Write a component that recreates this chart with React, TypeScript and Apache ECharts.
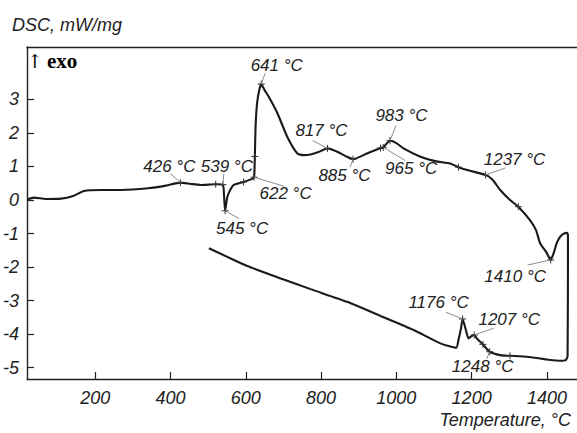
import React, { useEffect, useRef } from "react";
import * as echarts from "echarts";

// Heating run (temperature °C, DSC mW/mg)
const heatT = [20, 37, 69, 109, 141, 170, 215, 268, 340, 388, 426, 454, 480, 520, 539, 542, 545, 551, 560, 568, 594, 617, 622, 624, 626, 630, 636, 641, 650, 661, 684, 710, 737, 753, 772, 793, 817, 843, 865, 885, 922, 958, 965, 983, 1000, 1019, 1064, 1103, 1143, 1165, 1196, 1237, 1255, 1276, 1302, 1324, 1355, 1371, 1382, 1398, 1410, 1419, 1426, 1435, 1444, 1453, 1456];
const heatV = [0.02, 0.07, 0.03, 0.04, 0.12, 0.27, 0.30, 0.30, 0.35, 0.43, 0.52, 0.48, 0.45, 0.47, 0.46, 0.15, -0.32, 0.10, 0.33, 0.45, 0.54, 0.63, 0.68, 1.3, 2.2, 2.9, 3.3, 3.46, 3.28, 3.08, 2.59, 1.89, 1.39, 1.34, 1.36, 1.43, 1.54, 1.44, 1.31, 1.22, 1.39, 1.55, 1.57, 1.77, 1.70, 1.54, 1.29, 1.16, 1.09, 0.98, 0.87, 0.75, 0.61, 0.30, 0.0, -0.2, -0.6, -0.9, -1.29, -1.55, -1.79, -1.55, -1.29, -1.10, -1.01, -0.98, -1.01];

// Cooling run
const coolT = [1456, 1455, 1450, 1435, 1400, 1382, 1347, 1302, 1276, 1248, 1230, 1215, 1207, 1200, 1192, 1184, 1176, 1172, 1165, 1159, 1117, 1046, 958, 869, 772, 693, 604, 502];
const coolV = [-1.01, -4.66, -4.78, -4.80, -4.76, -4.73, -4.68, -4.65, -4.63, -4.53, -4.31, -4.15, -4.03, -4.06, -4.13, -3.85, -3.55, -3.82, -4.18, -4.41, -4.28, -3.88, -3.46, -3.04, -2.66, -2.34, -1.97, -1.44];

// Labelled characteristic points
const labelTemps = [426, 539, 545, 622, 641, 817, 885, 965, 983, 1237, 1410, 1176, 1207, 1248];
const labelValues = [0.52, 0.46, -0.32, 0.68, 3.46, 1.54, 1.22, 1.57, 1.77, 0.75, -1.79, -3.55, -4.03, -4.53];
// Unlabelled tick marks on the curve
const extraTemps = [520, 594, 624, 958, 1165, 1324, 1230, 1302];
const extraValues = [0.47, 0.54, 1.3, 1.55, 0.98, -0.2, -4.31, -4.65];

const xTicks = [200, 400, 600, 800, 1000, 1200, 1400];
const yTicks = [-5, -4, -3, -2, -1, 0, 1, 2, 3];

// layout of labels: [text dx, text dy, leader end dx, leader end dy] in px
const labelLayout = [
  [-11, -16, -10, -9],
  [4, -18.5, 1, -11],
  [17, 17.3, 14, 8],
  [31.5, 16.7, 30, 9],
  [15.5, -19, 4, -11],
  [-6, -18, -15, -8],
  [-8.6, 16, -3, 8],
  [28, 21, 22, 13],
  [11.5, -25.7, 6, -15],
  [29, -15, 20, -7],
  [-35.5, 16.7, -23, 5],
  [-24, -16.6, -16.6, -6.6],
  [35, -16, 20, -7],
  [-7, 14.7, -3, 7],
];

const FONT = "'Liberation Sans', Arial, Helvetica, sans-serif";
const TXT = "#222";

export default function App() {
  const ref = useRef<HTMLDivElement>(null);
  useEffect(() => {
    if (!ref.current) return;
    const chart = echarts.init(ref.current, undefined, { renderer: "svg" });
    const heat = heatT.map((t, i) => [t, heatV[i]]);
    const cool = coolT.map((t, i) => [t, coolV[i]]);
    const marks = [
      ...labelTemps.map((t, i) => [t, labelValues[i], i]),
      ...extraTemps.map((t, i) => [t, extraValues[i], -1]),
    ];
    const xMin = 18.6, xMax = 1480;
    const lineStyle = { color: "#1a1a1a", width: 2.1 };
    chart.setOption({
      animation: false,
      backgroundColor: "#fff",
      grid: { left: 26, top: 47, width: 551, height: 332 },
      xAxis: [
        {
          type: "value",
          min: xMin,
          max: xMax,
          position: "bottom",
          axisLine: { show: true, onZero: false, lineStyle: { color: "#222", width: 1.4 } },
          axisTick: { show: true, inside: true, length: 7, customValues: xTicks, lineStyle: { color: "#222", width: 1.2 } },
          axisLabel: {
            show: true,
            customValues: xTicks,
            formatter: (v: number) => String(v),
            margin: 10,
            fontSize: 18,
            fontStyle: "italic",
            fontFamily: FONT,
            color: TXT,
          },
          splitLine: { show: false },
        },
        {
          type: "value",
          min: xMin,
          max: xMax,
          position: "top",
          axisLine: { show: true, onZero: false, lineStyle: { color: "#222", width: 1.4 } },
          axisTick: { show: false },
          axisLabel: { show: false },
          splitLine: { show: false },
        },
      ],
      yAxis: {
        type: "value",
        min: -5.343,
        max: 4.567,
        axisLine: { show: true, onZero: false, lineStyle: { color: "#222", width: 1.4 } },
        axisTick: { show: true, inside: true, length: 7, customValues: yTicks, lineStyle: { color: "#222", width: 1.2 } },
        axisLabel: {
          show: true,
          customValues: yTicks,
          formatter: (v: number) => String(v),
          margin: 8,
          fontSize: 18,
          fontStyle: "italic",
          fontFamily: FONT,
          color: TXT,
        },
        splitLine: { show: false },
      },
      series: [
        { type: "line", data: heat, showSymbol: false, symbol: "none", lineStyle, smooth: 0.2, z: 3 },
        { type: "line", data: cool, showSymbol: false, symbol: "none", lineStyle, smooth: 0.2, z: 3 },
        {
          type: "custom",
          data: marks,
          clip: false,
          z: 4,
          encode: { x: 0, y: 1 },
          renderItem: (params: any, api: any) => {
            const t = api.value(0);
            const v = api.value(1);
            const idx = api.value(2);
            const [x, y] = api.coord([t, v]);
            const s = 3.5;
            const children: any[] = [
              { type: "line", shape: { x1: x - s, y1: y, x2: x + s, y2: y }, style: { stroke: "#333", lineWidth: 1 } },
              { type: "line", shape: { x1: x, y1: y - s, x2: x, y2: y + s }, style: { stroke: "#333", lineWidth: 1 } },
            ];
            if (idx >= 0) {
              const [dx, dy, lx, ly] = labelLayout[idx];
              children.push({
                type: "line",
                shape: { x1: x, y1: y, x2: x + lx, y2: y + ly },
                style: { stroke: "#808080", lineWidth: 0.9 },
              });
              children.push({
                type: "text",
                x: x + dx,
                y: y + dy,
                style: {
                  text: `${labelTemps[idx]} °C`,
                  fill: TXT,
                  fontSize: 17,
                  fontStyle: "italic",
                  fontFamily: FONT,
                  align: "center",
                  verticalAlign: "middle",
                },
              });
            }
            return { type: "group", children };
          },
        },
      ],
      graphic: [
        {
          type: "text",
          left: 12,
          top: 16,
          style: { text: "DSC, mW/mg", fill: TXT, fontSize: 18, fontStyle: "italic", fontFamily: FONT },
        },
        {
          type: "text",
          left: 27,
          top: 50,
          style: {
            text: "{a|↑}{b|exo}",
            rich: {
              a: { fontSize: 19, fontFamily: "'DejaVu Serif', serif", color: "#111", padding: [0, 4, 0, 0] },
              b: { fontSize: 21, fontWeight: "bold", fontFamily: "'Liberation Serif', 'Times New Roman', serif", color: "#111" },
            },
          },
        },
        {
          type: "text",
          right: 6,
          top: 411,
          style: { text: "Temperature, °C", fill: TXT, fontSize: 18, fontStyle: "italic", fontFamily: FONT },
        },
      ],
    });
    return () => chart.dispose();
  }, []);
  return (
    <div
      ref={ref}
      style={{ position: "fixed", left: 0, top: 0, width: 577, height: 433, background: "#fff" }}
    />
  );
}
